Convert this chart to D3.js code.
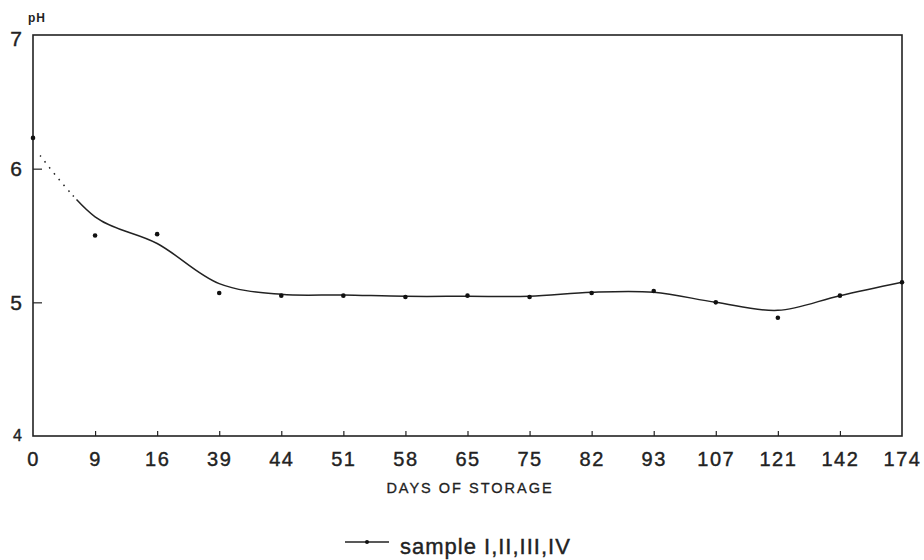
<!DOCTYPE html>
<html>
<head>
<meta charset="utf-8">
<script src="https://cdn.jsdelivr.net/npm/d3@7"></script>
<style>
  body { margin: 0; background: #fff; }
  svg { display: block; font-family: "Liberation Sans", Arial, sans-serif; }
</style>
</head>
<body>
<svg id="chart" width="924" height="560"></svg>
<script>
// days of storage (categorical axis)
const days = ['0', '9', '16', '39', '44', '51', '58', '65', '75', '82', '93', '107', '121', '142', '174']
// measured pH (dots)
const phPoints = [6.23, 5.50, 5.51, 5.07, 5.05, 5.05, 5.04, 5.05, 5.04, 5.07, 5.085, 5.00, 4.885, 5.05, 5.15]
// smoothed trend line
const phCurve = [6.17, 5.64, 5.44, 5.14, 5.06, 5.055, 5.045, 5.045, 5.045, 5.075, 5.075, 5.00, 4.94, 5.05, 5.15]
const yTicks = [4, 5, 6, 7]

const svg = d3.select('#chart')
const margin = { left: 33, right: 22, top: 35, bottom: 124 }
const width = 924 - margin.left - margin.right
const height = 560 - margin.top - margin.bottom

const x = d3.scalePoint().domain(days).range([0, width])
const y = d3.scaleLinear().domain([4, 7]).range([height, 0])

const g = svg.append('g').attr('transform', `translate(${margin.left},${margin.top})`)

// frame
g.append('rect')
  .attr('width', width).attr('height', height)
  .attr('fill', 'none').attr('stroke', '#222').attr('stroke-width', 1.6)

// x axis: small inward ticks + labels below
const xAxis = d3.axisBottom(x).tickSize(-5).tickPadding(16)
const xg = g.append('g').attr('transform', `translate(0,${height})`).call(xAxis)
xg.select('.domain').remove()
xg.selectAll('.tick line').attr('stroke', '#222').attr('stroke-width', 1.2)
  .filter(d => d === days[0] || d === days[days.length - 1]).remove()
xg.selectAll('.tick text')
  .attr('font-size', 20).attr('fill', '#222').attr('letter-spacing', 1.5)
  .attr('stroke', '#222').attr('stroke-width', 0.4)

// y axis: inward ticks on left
const yAxis = d3.axisLeft(y).tickValues(yTicks).tickSize(-9).tickPadding(11).tickFormat(d3.format('d'))
const yg = g.append('g').call(yAxis)
yg.select('.domain').remove()
yg.selectAll('.tick line').attr('stroke', '#222').attr('stroke-width', 1.2)
  .filter(d => d === 4 || d === 7).remove()
yg.selectAll('.tick text').attr('font-size', d => d === 4 ? 16 : 21).attr('fill', '#222')
  .attr('stroke', '#222').attr('stroke-width', 0.4)
  .attr('dy', d => d === 7 ? '0.5em' : d === 4 ? '0.3em' : '0.32em')

// trend line (dotted at the start)
const line = d3.line()
  .x((d, i) => x(days[i]))
  .y(d => y(d))
  .curve(d3.curveCatmullRom.alpha(0.5))
g.append('path')
  .datum(phCurve)
  .attr('fill', 'none')
  .attr('stroke', '#222')
  .attr('stroke-width', 1.5)
  .attr('stroke-dasharray', '0,12,1.5,6,1.5,6,1.5,6,1.5,6,1.5,6,1.5,6,1.5,5,1.5,4,5000')
  .attr('d', line)

// measured points
g.selectAll('circle.pt')
  .data(phPoints)
  .join('circle')
  .attr('class', 'pt')
  .attr('cx', (d, i) => x(days[i]))
  .attr('cy', d => y(d))
  .attr('r', 2.3)
  .attr('fill', '#111')

// pH label
svg.append('text')
  .attr('x', 28).attr('y', 22)
  .attr('font-size', 12).attr('font-weight', 'bold').attr('fill', '#222')
  .attr('letter-spacing', 1)
  .text('pH')

// x-axis title
svg.append('text')
  .attr('x', 470).attr('y', 493)
  .attr('text-anchor', 'middle')
  .attr('font-size', 14.5).attr('fill', '#222')
  .attr('stroke', '#222').attr('stroke-width', 0.3)
  .attr('letter-spacing', 2)
  .text('DAYS OF STORAGE')

// legend
const lg = svg.append('g').attr('transform', 'translate(345,542)')
lg.append('line').attr('x1', 0).attr('x2', 44).attr('stroke', '#222').attr('stroke-width', 1.5)
lg.append('circle').attr('cx', 22).attr('r', 2).attr('fill', '#111')
lg.append('text')
  .attr('x', 55).attr('y', 12)
  .attr('font-size', 22).attr('fill', '#222').attr('letter-spacing', 1)
  .attr('stroke', '#222').attr('stroke-width', 0.4)
  .text('sample I,II,III,IV')
</script>
</body>
</html>
